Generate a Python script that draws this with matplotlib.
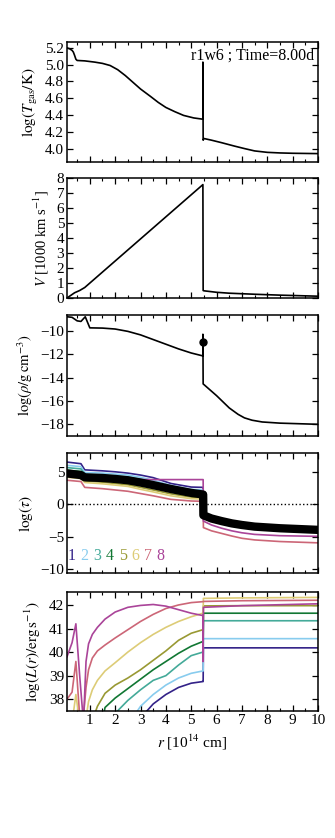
"""Five-panel radial profile: temperature, velocity, density, optical depth, luminosity."""

import matplotlib
matplotlib.use("Agg")
import matplotlib.pyplot as plt
from matplotlib.ticker import MultipleLocator

plt.rcParams.update({
    "font.family": "serif",
    "font.serif": ["Liberation Serif", "DejaVu Serif"],
    "mathtext.fontset": "stix",
    "font.size": 10.5,
    "axes.linewidth": 1.1,
    "xtick.direction": "in",
    "ytick.direction": "in",
    "xtick.top": True,
    "ytick.right": True,
})

# ---- data (r in 1e14 cm) ----
r_T = [0.1, 0.2, 0.3, 0.35, 0.4, 0.45, 0.5, 0.8, 1.2, 1.5, 1.8, 2.1, 2.4, 2.7, 3.0, 3.4,
       3.7, 4.0, 4.35, 4.7, 5.1, 5.46, 5.46, 5.47, 5.5, 5.8, 6.2, 6.7, 7.1, 7.5, 8.0, 8.5,
       9.0, 10.0]
logT = [5.2, 5.19, 5.17, 5.15, 5.11, 5.065, 5.05, 5.045, 5.03, 5.015, 4.99, 4.94, 4.87,
        4.79, 4.71, 4.62, 4.55, 4.49, 4.44, 4.395, 4.365, 4.35, 5.03, 4.1, 4.12, 4.1,
        4.07, 4.03, 4.0, 3.972, 3.955, 3.948, 3.944, 3.94]

r_V = [0.1, 0.4, 0.6, 0.8, 5.46, 5.47, 5.5, 6.0, 6.5, 7.5, 8.5, 10.0]
vel = [0.0, 0.35, 0.5, 0.7, 7.56, 0.5, 0.48, 0.38, 0.32, 0.25, 0.19, 0.12]

r_rho = [0.1, 0.3, 0.5, 0.65, 0.82, 1.0, 1.5, 2.0, 2.5, 3.0, 3.5, 4.0, 4.5, 5.0, 5.46,
         5.46, 5.47, 5.5, 6.0, 6.5, 6.85, 7.1, 7.4, 7.8, 8.5, 10.0]
logrho = [-8.8, -8.85, -9.15, -9.2, -8.8, -9.75, -9.77, -9.85, -10.05, -10.35, -10.75,
          -11.15, -11.55, -11.9, -12.15, -10.3, -14.55, -14.6, -15.55, -16.6, -17.15,
          -17.45, -17.65, -17.8, -17.9, -18.0]
r_dot, rho_dot = 5.47, -11.0

r_tau = [0.1, 0.65, 0.8, 1.5, 2.0, 2.5, 3.0, 3.5, 4.2, 5.0, 5.47, 5.48, 5.8, 6.2, 6.6,
         7.0, 7.5, 8.5, 10.0]
tau_all = [4.75, 4.5, 4.15, 4.05, 3.9, 3.7, 3.35, 2.95, 2.35, 1.75, 1.5, -1.7, -2.2,
           -2.6, -2.95, -3.2, -3.45, -3.7, -3.95]
tau_bands = [
    [6.5, 6.25, 5.3, 5.15, 5.0, 4.8, 4.5, 4.1, 3.2, 2.65, 2.6, -1.5, -2.0, -2.4, -2.75,
     -3.0, -3.25, -3.5, -3.8],
    [6.0, 5.8, 4.9, 4.8, 4.65, 4.5, 4.15, 3.7, 2.9, 2.3, 2.2, -1.6, -2.1, -2.5, -2.85,
     -3.1, -3.3, -3.55, -3.85],
    [5.65, 5.45, 4.6, 4.5, 4.35, 4.2, 3.85, 3.4, 2.6, 2.0, 1.9, -1.65, -2.15, -2.55,
     -2.9, -3.15, -3.35, -3.6, -3.9],
    [5.25, 5.05, 4.35, 4.2, 4.05, 3.9, 3.55, 3.15, 2.4, 1.7, 1.55, -1.7, -2.2, -2.6,
     -2.95, -3.2, -3.4, -3.65, -3.95],
    [4.4, 4.2, 3.6, 3.4, 3.2, 3.0, 2.6, 2.2, 1.6, 1.1, 1.0, -1.75, -2.25, -2.65, -3.0,
     -3.25, -3.45, -3.7, -4.0],
    [4.15, 3.95, 3.35, 3.15, 2.95, 2.75, 2.3, 1.9, 1.3, 0.85, 0.8, -1.8, -2.3, -2.7,
     -3.05, -3.3, -3.5, -3.75, -4.05],
    [3.7, 3.5, 2.6, 2.4, 2.2, 2.0, 1.65, 1.3, 0.75, 0.5, 0.45, -3.6, -4.1, -4.5, -4.9,
     -5.25, -5.5, -5.75, -5.95],
    [4.4, 4.2, 3.9, 3.85, 3.82, 3.8, 3.8, 3.8, 3.8, 3.8, 3.8, -2.6, -3.2, -3.7, -4.1,
     -4.4, -4.65, -4.85, -4.95],
]

r_L = [0.1, 0.3, 0.45, 0.6, 0.75, 0.85, 0.95, 1.1, 1.3, 1.6, 2.0, 2.5, 3.0, 3.5, 4.0,
       4.5, 5.0, 5.46, 5.47, 5.48, 7.0, 10.0]
lum_bands = [
    [36, 36, 36, 36, 36, 36, 36, 36, 36, 36, 36, 36, 37.2, 37.8, 38.2, 38.5, 38.68,
     38.75, 38.75, 40.18, 40.18, 40.18],
    [36, 36, 36, 36, 36, 36, 36, 36, 36, 36, 36, 36.9, 37.7, 38.2, 38.6, 38.9, 39.1,
     39.2, 39.2, 40.57, 40.57, 40.57],
    [36, 36, 36, 36, 36, 36, 36, 36, 36, 36, 37.4, 37.95, 38.4, 38.8, 39.0, 39.45, 39.85,
     40.0, 40.0, 41.33, 41.33, 41.33],
    [36, 36, 36, 36, 36, 36, 36, 36, 36, 37.65, 38.05, 38.45, 38.85, 39.25, 39.6, 39.95,
     40.25, 40.45, 40.45, 41.65, 41.65, 41.65],
    [36, 36, 36, 36, 36, 36, 36, 37.1, 37.7, 38.25, 38.6, 38.9, 39.25, 39.65, 40.05,
     40.5, 40.8, 40.95, 40.95, 41.96, 41.97, 41.97],
    [36, 37.0, 38.2, 37.0, 37.0, 37.2, 37.9, 38.4, 38.8, 39.2, 39.55, 40.0, 40.4, 40.75,
     41.05, 41.3, 41.5, 41.65, 41.65, 42.28, 42.3, 42.32],
    [38.0, 38.3, 39.6, 37.3, 37.3, 38.5, 39.25, 39.75, 40.05, 40.3, 40.6, 40.95, 41.3,
     41.6, 41.85, 42.0, 42.1, 42.14, 42.14, 42.15, 42.18, 42.2],
    [39.8, 40.4, 41.2, 39.0, 37.0, 39.6, 40.35, 40.75, 41.05, 41.4, 41.7, 41.9, 41.98,
     42.02, 41.95, 41.8, 41.65, 41.55, 39.6, 41.9, 41.97, 42.05],
]

band_labels = ["1", "2", "3", "4", "5", "6", "7", "8"]
band_colors = ["#332288", "#88CCEE", "#44AA99", "#117733", "#999933", "#DDCC77",
               "#CC6677", "#AA4499"]
run_label = "r1w6 ; Time=8.00d"


def main():
    W, H = 335, 838
    fig = plt.figure(figsize=(W / 100, H / 100), dpi=100)
    x0, x1 = 67, 318
    spans = [(42, 162), (178, 298), (315, 436), (453, 573), (592, 711)]
    axes = []
    for k, (top, bot) in enumerate(spans):
        ax = fig.add_axes([x0 / W, 1 - bot / H, (x1 - x0) / W, (bot - top) / H])
        ax.set_xlim(0.1, 10)
        ax.xaxis.set_major_locator(MultipleLocator(1))
        ax.xaxis.set_minor_locator(MultipleLocator(0.5))
        ax.tick_params(which="major", length=4, width=0.9, labelsize=11, pad=2)
        ax.tick_params(which="minor", length=2, width=0.8)
        if k < len(spans) - 1:
            ax.tick_params(labelbottom=False)
        axes.append(ax)

    lw = 1.2
    ax = axes[0]
    ax.plot(r_T, logT, color="black", lw=lw)
    ax.set_ylim(3.84, 5.27)
    ax.yaxis.set_major_locator(MultipleLocator(0.2))
    ax.yaxis.set_major_formatter(plt.FormatStrFormatter("%.1f"))
    ax.set_ylabel(r"$\log(T_{\rm gas}/{\rm K})$", fontsize=11)
    ax.text(0.985, 0.82, run_label, transform=ax.transAxes, ha="right", va="bottom",
            fontsize=11.5)

    ax = axes[1]
    ax.plot(r_V, vel, color="black", lw=lw)
    ax.set_ylim(0, 8)
    ax.yaxis.set_major_locator(MultipleLocator(1))
    ax.set_ylabel(r"$V$ [1000 km s$^{-1}$]")

    ax = axes[2]
    ax.plot(r_rho, logrho, color="black", lw=lw)
    ax.plot([r_dot], [rho_dot], "o", color="black", ms=5)
    ax.set_ylim(-19, -8.65)
    ax.yaxis.set_major_locator(MultipleLocator(2))
    ax.set_ylabel(r"$\log(\rho/{\rm g\,cm^{-3}})$")

    ax = axes[3]
    for vals, col in zip(tau_bands, band_colors):
        ax.plot(r_tau, vals, color=col, lw=lw)
    ax.plot(r_tau, tau_all, color="black", lw=6, solid_joinstyle="round")
    ax.axhline(0, color="black", ls=":", lw=1)
    for i, (lab, col) in enumerate(zip(band_labels, band_colors)):
        ax.text(0.3 + 0.5 * i, -8.0, lab, color=col, fontsize=11.5, ha="center",
                va="center")
    ax.set_ylim(-10.6, 7.9)
    ax.yaxis.set_major_locator(MultipleLocator(5))
    ax.set_ylabel(r"$\log(\tau)$", fontsize=11)

    ax = axes[4]
    for vals, col in zip(lum_bands, band_colors):
        ax.plot(r_L, vals, color=col, lw=lw)
    ax.set_ylim(37.5, 42.55)
    ax.yaxis.set_major_locator(MultipleLocator(1))
    ax.set_ylabel(r"$\log(L(r)/{\rm erg\,s^{-1}})$", fontsize=11)
    ax.set_xlabel(r"$r$ [10$^{14}$ cm]", fontsize=11)

    fig.savefig("out.png", dpi=100)


if __name__ == "__main__":
    main()
